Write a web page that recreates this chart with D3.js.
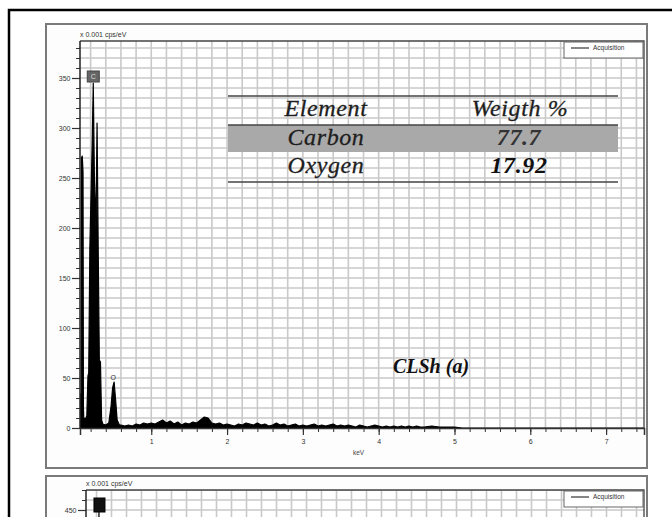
<!DOCTYPE html>
<html>
<head>
<meta charset="utf-8">
<script src="https://cdn.jsdelivr.net/npm/d3@7"></script>
<style>
  body { margin: 0; background: #fff; }
  svg { display: block; }
  .tick text { font-family: "Liberation Sans", sans-serif; font-size: 7px; fill: #333; }
  .axis path, .axis line { stroke: #333; }
</style>
</head>
<body>
<div id="chart"></div>
<script>
// spectrum of the upper panel (keV, x 0.001 cps/eV)
const energy = [0.06, 0.065, 0.075, 0.08, 0.09, 0.10, 0.105, 0.11, 0.13, 0.15, 0.165, 0.175, 0.19, 0.22, 0.235, 0.25, 0.27, 0.285, 0.30, 0.315, 0.33, 0.345,
  0.36, 0.40, 0.44, 0.47, 0.49, 0.51, 0.53, 0.55, 0.58,
  0.60, 0.65, 0.70, 0.75, 0.80, 0.85, 0.90, 0.95, 1.00, 1.05, 1.10, 1.15, 1.20, 1.25, 1.30, 1.35, 1.40, 1.45, 1.50, 1.55,
  1.60, 1.65, 1.70, 1.75, 1.80, 1.85, 1.90, 1.95, 2.00, 2.05, 2.10, 2.15, 2.20, 2.25, 2.30, 2.35, 2.40, 2.45, 2.50, 2.55,
  2.60, 2.65, 2.70, 2.75, 2.80, 2.85, 2.90, 2.95, 3.00, 3.05, 3.10, 3.15, 3.20, 3.25, 3.30, 3.35, 3.40, 3.45, 3.50, 3.55,
  3.60, 3.65, 3.70, 3.75, 3.80, 3.85, 3.90, 3.95, 4.00, 4.05, 4.10, 4.15, 4.20, 4.25, 4.30, 4.35, 4.40, 4.45, 4.50, 4.55,
  4.60, 4.70, 4.80, 4.90, 5.00, 5.10, 7.50];
const counts = [0, 33, 35, 270, 272, 256, 20, 10, 9, 12, 52, 55, 180, 282, 345, 250, 200, 305, 180, 68, 66, 8,
  4, 3, 5, 22, 40, 46, 28, 8, 3,
  3, 2, 3, 2, 4, 3, 5, 4, 5, 4, 6, 8, 5, 7, 4, 6, 3, 5, 4, 6,
  5, 8, 11, 10, 5, 4, 5, 3, 4, 3, 2, 4, 3, 5, 4, 3, 5, 3, 4, 2,
  3, 5, 3, 4, 2, 3, 4, 2, 3, 2, 3, 4, 2, 3, 2, 3, 4, 2, 3, 2,
  3, 2, 1, 3, 2, 1, 2, 3, 2, 1, 2, 1, 2, 1, 2, 1, 2, 1, 2, 1,
  1, 2, 1, 1, 1, 0, 0];

// lower panel, only the top of the carbon peak is in view
const energyLower = [0.06, 0.15, 0.20, 0.233, 0.26, 0.32, 7.50];
const countsLower = [0, 20, 200, 448, 200, 20, 0];

// quantification table
const elements = ['Carbon', 'Oxygen'];
const weights = ['77.7', '17.92'];
const tableHeader = ['Element', 'Weigth %'];

const xTicks = [1, 2, 3, 4, 5, 6, 7];
const yTicks = [0, 50, 100, 150, 200, 250, 300, 350];
const yTicksLower = [450];

const W = 672, H = 517;
const svg = d3.select('#chart').append('svg')
  .attr('width', W)
  .attr('height', H);

// outer frame (top and left edges only are in view)
svg.append('path')
  .attr('d', 'M9,517 V10 H672')
  .attr('fill', 'none')
  .attr('stroke', '#000')
  .attr('stroke-width', 2.5);

function minorRange(a, b, step) {
  const out = [];
  for (let v = Math.ceil(a / step - 1e-9) * step; v <= b + 1e-9; v += step) out.push(+v.toFixed(3));
  return out;
}

function Panel(box, plot, yDomain, majorY, spec) {
  const g = svg.append('g');

  g.append('rect')
    .attr('x', box.x).attr('y', box.y)
    .attr('width', box.w).attr('height', box.h)
    .attr('fill', '#fdfdfd')
    .attr('stroke', '#7a7a7a')
    .attr('stroke-width', 2);

  const xScale = d3.scaleLinear()
    .domain([0.06, 7.5])
    .range([plot.left, plot.right]);

  const yScale = d3.scaleLinear()
    .domain(yDomain)
    .range([plot.bottom, plot.bottom - (yDomain[1] - yDomain[0])]);

  const yTop = yScale.invert(plot.top);
  const yBottom = Math.min(plot.bottom, H + 2);

  // grid
  const clip = 'clip' + box.y;
  g.append('clipPath').attr('id', clip)
    .append('rect')
    .attr('x', plot.left).attr('y', plot.top)
    .attr('width', plot.right - plot.left).attr('height', yBottom - plot.top);

  const grid = g.append('g').attr('clip-path', 'url(#' + clip + ')');
  grid.append('rect')
    .attr('x', plot.left).attr('y', plot.top)
    .attr('width', plot.right - plot.left).attr('height', yBottom - plot.top)
    .attr('fill', '#fff');
  grid.selectAll('.vgrid')
    .data(minorRange(0.2, 7.5, 0.2))
    .join('line')
    .attr('x1', d => xScale(d)).attr('x2', d => xScale(d))
    .attr('y1', plot.top).attr('y2', yBottom)
    .attr('stroke', '#c9c9c9').attr('stroke-width', 1.6);
  grid.selectAll('.hgrid')
    .data(minorRange(yDomain[0] + 10, yTop, 10))
    .join('line')
    .attr('x1', plot.left).attr('x2', plot.right)
    .attr('y1', d => yScale(d)).attr('y2', d => yScale(d))
    .attr('stroke', '#c9c9c9').attr('stroke-width', 1.6);

  // spectrum
  const area = d3.area()
    .x((d, i) => xScale(spec.x[i]))
    .y0(yScale(0))
    .y1(d => yScale(d));
  grid.append('path')
    .datum(spec.y)
    .attr('d', area)
    .attr('fill', '#000')
    .attr('stroke', '#000')
    .attr('stroke-width', 1.2)
    .attr('stroke-linejoin', 'round');

  // plot frame top/right
  g.append('path')
    .attr('d', `M${plot.left},${plot.top} H${plot.right} V${yBottom}`)
    .attr('fill', 'none')
    .attr('stroke', '#444')
    .attr('stroke-width', 1.3);

  // y axis
  g.append('g')
    .attr('class', 'axis')
    .attr('transform', 'translate(' + plot.left + ',0)')
    .call(d3.axisLeft(yScale).tickValues(minorRange(yDomain[0], yTop, 10)).tickSize(4).tickFormat(''))
    .call(s => s.select('.domain').remove());
  g.append('g')
    .attr('class', 'axis')
    .attr('transform', 'translate(' + plot.left + ',0)')
    .call(d3.axisLeft(yScale).tickValues(majorY).tickSize(8).tickPadding(1.5))
    .call(s => s.select('.domain').remove())
    .call(s => s.selectAll('.tick line').attr('stroke-width', 1.2));
  g.append('line')
    .attr('x1', plot.left).attr('x2', plot.left)
    .attr('y1', plot.top).attr('y2', yBottom)
    .attr('stroke', '#222').attr('stroke-width', 1.5);

  g.append('text')
    .attr('x', plot.left)
    .attr('y', plot.top - 4)
    .attr('font-family', 'Liberation Sans, sans-serif')
    .attr('font-size', 7)
    .attr('fill', '#333')
    .text('x 0.001 cps/eV');

  // legend
  g.append('rect')
    .attr('x', plot.right - 80).attr('y', plot.top + 1)
    .attr('width', 79).attr('height', 16)
    .attr('fill', '#fff').attr('stroke', '#666').attr('stroke-width', 1);
  g.append('line')
    .attr('x1', plot.right - 73).attr('x2', plot.right - 55)
    .attr('y1', plot.top + 7).attr('y2', plot.top + 7)
    .attr('stroke', '#444').attr('stroke-width', 1.3);
  g.append('text')
    .attr('x', plot.right - 51).attr('y', plot.top + 9)
    .attr('font-family', 'Liberation Sans, sans-serif')
    .attr('font-size', 6.5)
    .attr('fill', '#333')
    .text('Acquisition');

  return { g, xScale, yScale };
}

// upper panel
const upper = Panel(
  { x: 46, y: 24, w: 601, h: 444 },
  { left: 80, right: 644, top: 41, bottom: 428 },
  [0, 387], yTicks, { x: energy, y: counts });

upper.g.append('g')
  .attr('class', 'axis')
  .attr('transform', 'translate(0,428)')
  .call(d3.axisBottom(upper.xScale).tickValues(minorRange(0.2, 7.5, 0.2)).tickSize(4).tickFormat(''))
  .call(s => s.select('.domain').remove());
upper.g.append('g')
  .attr('class', 'axis')
  .attr('transform', 'translate(0,428)')
  .call(d3.axisBottom(upper.xScale).tickValues(xTicks).tickSize(7).tickPadding(4).tickFormat(d3.format('d')))
  .call(s => s.select('.domain').attr('stroke-width', 1.5))
  .call(s => s.selectAll('.tick line').attr('stroke-width', 1.2));

upper.g.append('text')
  .attr('x', 353).attr('y', 455)
  .attr('font-family', 'Liberation Sans, sans-serif')
  .attr('font-size', 6.5)
  .attr('fill', '#444')
  .text('keV');

// peak labels
const cx = upper.xScale(0.235), cy = upper.yScale(345);
upper.g.append('rect')
  .attr('x', cx - 6).attr('y', cy - 12)
  .attr('width', 12).attr('height', 11)
  .attr('fill', '#666').attr('stroke', '#444');
upper.g.append('text')
  .attr('x', cx).attr('y', cy - 4)
  .attr('text-anchor', 'middle')
  .attr('font-family', 'Liberation Sans, sans-serif')
  .attr('font-size', 7)
  .attr('fill', '#ddd')
  .text('C');
upper.g.append('text')
  .attr('x', upper.xScale(0.51) - 1).attr('y', upper.yScale(46) - 2)
  .attr('text-anchor', 'middle')
  .attr('font-family', 'Liberation Sans, sans-serif')
  .attr('font-size', 7)
  .attr('fill', '#333')
  .text('O');

// table of weight percentages
const tbl = upper.g.append('g')
  .attr('font-family', 'Liberation Serif, serif')
  .attr('font-style', 'italic')
  .attr('letter-spacing', 0.6);
tbl.append('rect')
  .attr('x', 228).attr('y', 125).attr('width', 390).attr('height', 27)
  .attr('fill', '#a9a9a9');
[96, 125, 182].forEach(y => {
  tbl.append('line')
    .attr('x1', 228).attr('x2', 618).attr('y1', y).attr('y2', y)
    .attr('stroke', '#444').attr('stroke-width', 1.3);
});
tbl.selectAll('.head')
  .data(tableHeader)
  .join('text')
  .attr('x', (d, i) => i === 0 ? 326 : 520)
  .attr('y', 116)
  .attr('text-anchor', 'middle')
  .attr('font-size', 24)
  .attr('fill', '#1e1e1e')
  .attr('stroke', '#1e1e1e').attr('stroke-width', 0.3)
  .text(d => d);
tbl.selectAll('.name')
  .data(elements)
  .join('text')
  .attr('x', 326)
  .attr('y', (d, i) => 145 + i * 28)
  .attr('text-anchor', 'middle')
  .attr('font-size', 24)
  .attr('fill', '#1e1e1e')
  .attr('stroke', '#1e1e1e').attr('stroke-width', 0.3)
  .text(d => d);
tbl.selectAll('.val')
  .data(weights)
  .join('text')
  .attr('x', 519)
  .attr('y', (d, i) => 145 + i * 28)
  .attr('text-anchor', 'middle')
  .attr('font-size', 24)
  .attr('font-weight', 'bold')
  .attr('fill', (d, i) => i === 0 ? '#333' : '#111')
  .text(d => d);

upper.g.append('text')
  .attr('x', 431).attr('y', 373)
  .attr('text-anchor', 'middle')
  .attr('font-family', 'Liberation Serif, serif')
  .attr('font-style', 'italic')
  .attr('font-weight', 'bold')
  .attr('font-size', 20)
  .attr('fill', '#111')
  .text('CLSh (a)');

// lower panel, mostly cut off by the window
const lower = Panel(
  { x: 46, y: 476, w: 601, h: 200 },
  { left: 86, right: 644, top: 490, bottom: 960 },
  [0, 470], yTicksLower, { x: energyLower, y: countsLower });

const lx = lower.xScale(0.233), ly = lower.yScale(448);
lower.g.append('rect')
  .attr('x', lx - 5).attr('y', ly - 14)
  .attr('width', 11).attr('height', 14)
  .attr('fill', '#111').attr('stroke', '#000');
</script>
</body>
</html>
